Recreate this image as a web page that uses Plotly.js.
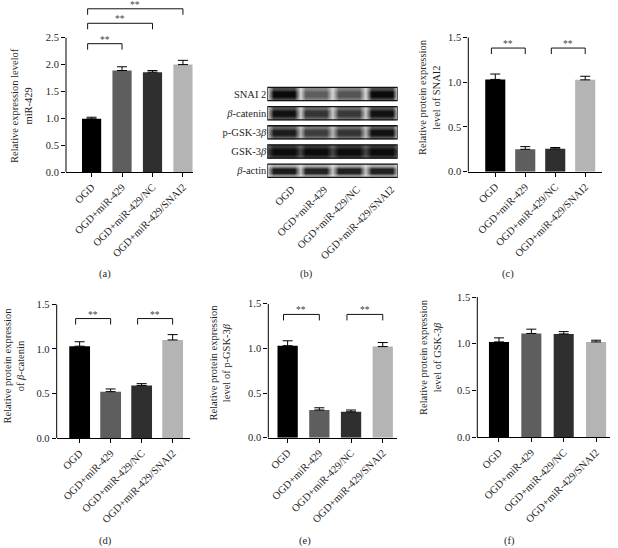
<!DOCTYPE html>
<html>
<head>
<meta charset="utf-8">
<script src="https://cdn.plot.ly/plotly-3.0.1.min.js"></script>
<style>html,body{margin:0;padding:0;background:#fff;}#chart{width:618px;height:548px;}</style>
</head>
<body>
<div id="chart"></div>
<script>
// ---------- data ----------
const categories = ['OGD', 'OGD+miR-429', 'OGD+miR-429/NC', 'OGD+miR-429/SNAI2'];
const barColors = ['#000000', '#5e5e5e', '#2f2f2f', '#b4b4b4'];

const valsA = [0.99, 1.89, 1.86, 2.00];
const errA  = [0.03, 0.07, 0.03, 0.08];
const valsC = [1.03, 0.25, 0.255, 1.025];
const errC  = [0.06, 0.03, 0.015, 0.04];
const valsD = [1.03, 0.52, 0.59, 1.10];
const errD  = [0.05, 0.03, 0.02, 0.06];
const valsE = [1.03, 0.31, 0.29, 1.02];
const errE  = [0.055, 0.025, 0.02, 0.045];
const valsF = [1.02, 1.11, 1.105, 1.02];
const errF  = [0.043, 0.046, 0.025, 0.018];

// significance brackets: [from index, to index, height]
const sigA = [[0, 1, 2.39], [0, 2, 2.77], [0, 3, 3.04]];
const sigC = [[0, 1, 1.38], [2, 3, 1.38]];
const sigD = [[0, 1, 1.34], [2, 3, 1.34]];
const sigE = [[0, 1, 1.38], [2, 3, 1.38]];
const sigF = [];

const ticksA = [0, 0.5, 1.0, 1.5, 2.0, 2.5];
const ticksP = [0, 0.5, 1.0, 1.5];

const titleA = 'Relative expression levelof<br>miR-429';
const titleC = 'Relative protein expression<br>level of SNAI2';
const titleD = 'Relative protein expression<br>of <i>β</i>-catenin';
const titleE = 'Relative protein expression<br>level of p-GSK-3<i>β</i>';
const titleF = 'Relative protein expression<br>level of GSK-3<i>β</i>';

// western blot (band darkness 0..1 per lane)
const blotRows = ['SNAI 2', '<i>β</i>-catenin', 'p-GSK-3<i>β</i>', 'GSK-3<i>β</i>', '<i>β</i>-actin'];
const bandSNAI2   = [0.98, 0.62, 0.66, 0.98];
const bandCatenin = [0.95, 0.80, 0.78, 0.95];
const bandPGSK    = [0.90, 0.76, 0.80, 0.95];
const bandGSK     = [0.97, 0.97, 0.97, 0.97];
const bandActin   = [0.90, 0.87, 0.88, 0.88];
const gapDarkness = [0.06, 0.12, 0.22, 0.72, 0.14];
const bandEdge    = [0.72, 0.70, 0.66, 0.82, 0.30];

// ---------- layout helpers ----------
const W = 618, H = 548;
const dx = (a, b) => [a / W, b / W];
const dy = (bottom, top) => [1 - bottom / H, 1 - top / H];
const FONT = 'Liberation Serif, Times New Roman, serif';
const TXT = '#1e1e1e';

const panels = [
  {id: '',  vals: valsA, err: errA, sig: sigA, xd: dx(66, 193),    yd: dy(172, 0.2),   xr: [-0.84, 3.33], ticks: ticksA, yr: [0, 3.2], lineTop: 2.5, bw: 0.63,
   title: titleA, tpos: [21, 106]},
  {id: '3', vals: valsC, err: errC, sig: sigC, xd: dx(468.3, 601.7), yd: dy(171.7, 37.3), xr: [-0.9, 3.55], ticks: ticksP, yr: [0, 1.5], lineTop: 1.5, bw: 0.67,
   title: titleC, tpos: [430, 97]},
  {id: '4', vals: valsD, err: errD, sig: sigD, xd: dx(56.7, 190),  yd: dy(438, 304.3),  xr: [-0.74, 3.56], ticks: ticksP, yr: [0, 1.5], lineTop: 1.5, bw: 0.67,
   title: titleD, tpos: [13.5, 366]},
  {id: '5', vals: valsE, err: errE, sig: sigE, xd: dx(268.3, 396.7), yd: dy(437.7, 303.7), xr: [-0.61, 3.44], ticks: ticksP, yr: [0, 1.5], lineTop: 1.5, bw: 0.64,
   title: titleE, tpos: [219.5, 363]},
  {id: '6', vals: valsF, err: errF, sig: sigF, xd: dx(477.3, 610),  yd: dy(437.3, 297),  xr: [-0.67, 3.43], ticks: ticksP, yr: [0, 1.5], lineTop: 1.5, bw: 0.62,
   title: titleF, tpos: [430, 357]}
];

const data = [];
const layout = {
  width: W, height: H,
  margin: {l: 0, r: 0, t: 0, b: 0},
  paper_bgcolor: '#ffffff', plot_bgcolor: 'rgba(0,0,0,0)',
  showlegend: false,
  font: {family: FONT, size: 10.5, color: TXT},
  annotations: [], shapes: []
};

panels.forEach(p => {
  const xa = 'x' + p.id, ya = 'y' + p.id;
  data.push({
    type: 'bar', x: categories, y: p.vals, xaxis: xa, yaxis: ya,
    width: p.bw,
    marker: {color: barColors, line: {width: 0}},
    error_y: {type: 'data', symmetric: false, array: p.err, arrayminus: p.err.map(() => 0),
              color: '#000', thickness: 1, width: 5},
    hoverinfo: 'skip'
  });
  layout['xaxis' + p.id] = {
    domain: p.xd, anchor: ya, type: 'category', range: p.xr,
    showline: true, linecolor: '#000', linewidth: 1,
    ticks: 'outside', ticklen: 4, tickwidth: 1, tickcolor: '#000',
    tickangle: -45, tickfont: {family: FONT, size: 10.5, color: TXT},
    showgrid: false, zeroline: false, fixedrange: true
  };
  layout['yaxis' + p.id] = {
    domain: p.yd, anchor: xa, range: p.yr,
    tickvals: p.ticks, tickformat: '.1f',
    showline: false,
    ticks: 'outside', ticklen: 4, tickwidth: 1, tickcolor: '#000',
    tickfont: {family: FONT, size: 10.5, color: TXT},
    showgrid: false, zeroline: false, fixedrange: true
  };
  // y-axis title (rotated, two lines)
  layout.annotations.push({xref: 'paper', yref: 'paper', x: p.tpos[0] / W, y: 1 - p.tpos[1] / H,
    text: p.title, textangle: -90, showarrow: false, xanchor: 'center', yanchor: 'middle', align: 'center',
    font: {family: FONT, size: 10.5, color: TXT}});
  // y axis line only up to the last tick
  layout.shapes.push({type: 'line', xref: xa + ' domain', yref: ya, x0: 0, x1: 0, y0: 0, y1: p.lineTop,
                      line: {color: '#000', width: 1}});
  // significance brackets
  p.sig.forEach(s => {
    const x0 = s[0] - 0.13, x1 = s[1], h = s[2];
    const st = {xref: xa, yref: ya, line: {color: '#111', width: 1}};
    layout.shapes.push(Object.assign({type: 'line', x0: x0, x1: x1, y0: h, y1: h}, st));
    layout.shapes.push(Object.assign({type: 'line', x0: x0, x1: x0, y0: 0, y1: -6, ysizemode: 'pixel', yanchor: h}, st));
    layout.shapes.push(Object.assign({type: 'line', x0: x1, x1: x1, y0: 0, y1: -6, ysizemode: 'pixel', yanchor: h}, st));
    layout.annotations.push({xref: xa, yref: ya, x: (x0 + x1) / 2, y: h, text: '**', showarrow: false,
                             yanchor: 'bottom', yshift: -3, font: {family: FONT, size: 9.5, color: '#444'}});
  });
});

// ---------- western blot panel ----------
const bands = [bandSNAI2, bandCatenin, bandPGSK, bandGSK, bandActin];
const laneX = [-0.5];
[0, 1, 2, 3].forEach(i => { laneX.push(i - 0.32, i + 0.32, i + 0.5); });
bands.forEach((b, r) => {
  const g = gapDarkness[r];
  const centre = [g];
  b.forEach(v => { centre.push(v, v, g); });
  const edge = centre.map(v => v * bandEdge[r]);
  data.push({
    type: 'heatmap', xaxis: 'x2', yaxis: 'y2',
    x: laneX, y: [r - 0.27, r - 0.09, r + 0.09, r + 0.27],
    z: [edge, centre, centre, edge],
    zmin: 0, zmax: 1, zsmooth: 'best', showscale: false, hoverinfo: 'skip',
    colorscale: [[0, '#e2e2e2'], [0.5, '#7a7a7a'], [1, '#050505']]
  });
  layout.shapes.push({type: 'rect', xref: 'x2', yref: 'y2', x0: -0.5, x1: 3.5, y0: r - 0.345, y1: r + 0.345,
                      line: {color: '#151515', width: 1.3}, fillcolor: 'rgba(0,0,0,0)', layer: 'above'});
});
layout.xaxis2 = {
  domain: dx(267.3, 397.7), anchor: 'y2', range: [-0.5, 3.5],
  tickvals: [0.25, 1.25, 2.25, 3.3], ticktext: categories, tickangle: -45,
  showline: false, ticks: '', showgrid: false, zeroline: false, fixedrange: true,
  tickfont: {family: FONT, size: 10.5, color: TXT}
};
layout.yaxis2 = {
  domain: dy(180.3, 84.4), anchor: 'x2', range: [4.5, -0.5],
  tickvals: [0, 1, 2, 3, 4], ticktext: blotRows,
  showline: false, ticks: '', showgrid: false, zeroline: false, fixedrange: true,
  tickfont: {family: FONT, size: 10.5, color: TXT}
};

// ---------- panel letters ----------
const panelLetters = ['(a)', '(b)', '(c)', '(d)', '(e)', '(f)'];
const letterPos = [[105, 274], [306, 274], [508, 274], [105, 541], [305, 541], [509, 541]];
panelLetters.forEach((t, i) => {
  layout.annotations.push({xref: 'paper', yref: 'paper', x: letterPos[i][0] / W, y: 1 - letterPos[i][1] / H,
    text: t, showarrow: false, xanchor: 'center', yanchor: 'middle', font: {family: FONT, size: 10.5, color: TXT}});
});

Plotly.newPlot('chart', data, layout, {displayModeBar: false, staticPlot: true});
</script>
</body>
</html>
